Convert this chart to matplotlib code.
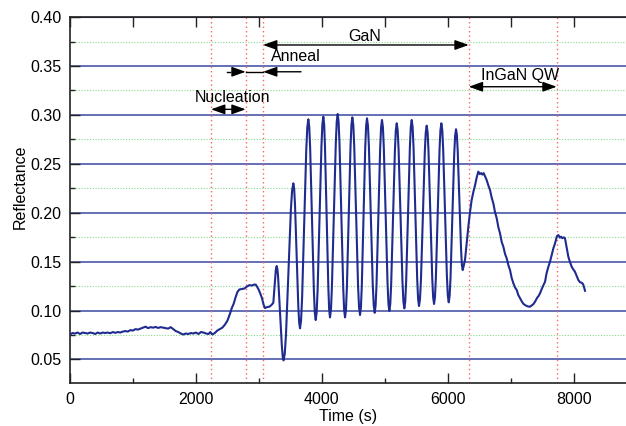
import matplotlib
matplotlib.use("Agg")
import matplotlib.pyplot as plt
from matplotlib.ticker import MultipleLocator

plt.rcParams['font.family'] = ['Liberation Sans', 'DejaVu Sans']

# ---- data ----
time_s = [0, 40, 80, 120, 160, 200, 240, 280, 320, 360, 400, 440, 480, 520, 560, 600, 640, 680, 720, 760,
          800, 840, 880, 920, 960, 1000, 1040, 1080, 1120, 1160, 1200, 1240, 1280, 1320, 1360, 1400, 1440,
          1480, 1520, 1560, 1600, 1640, 1680, 1720, 1760, 1800, 1840, 1880, 1920, 1960, 2000, 2040, 2080,
          2120, 2160, 2200, 2230, 2260, 2300, 2340, 2380, 2420, 2460, 2500, 2540, 2570, 2600, 2630, 2660,
          2690, 2730, 2770, 2810, 2850, 2890, 2920, 2950, 2975, 3000, 3025, 3050, 3075, 3098, 3130, 3170,
          3205, 3230, 3257, 3270, 3283,
          3295, 3305, 3325, 3345, 3365, 3380, 3392,
          3411.5, 3431, 3470, 3509, 3528.5, 3548,
          3561, 3574, 3601, 3627, 3641, 3654,
          3670.5, 3687, 3720, 3753, 3769.5, 3786,
          3800.6, 3815, 3845, 3874, 3888.4, 3903,
          3918.1, 3933, 3964, 3994, 4008.9, 4024,
          4037.3, 4050, 4077, 4104, 4116.8, 4130,
          4145.3, 4160, 4191, 4222, 4236.8, 4252,
          4266.6, 4281, 4311, 4340, 4354.4, 4369,
          4383.5, 4398, 4427, 4456, 4470.5, 4485,
          4500.3, 4515, 4546, 4576, 4591.8, 4607,
          4620.9, 4635, 4663, 4690, 4704.1, 4718,
          4733.3, 4748, 4779, 4809, 4824.8, 4840,
          4854.5, 4869, 4898, 4927, 4941.5, 4956,
          4970.6, 4985, 5015, 5044, 5058.4, 5073,
          5087.6, 5102, 5132, 5161, 5175.4, 5190,
          5205.1, 5220, 5251, 5281, 5295.9, 5311,
          5325.6, 5340, 5370, 5399, 5413.4, 5428,
          5442.5, 5457, 5486, 5515, 5529.5, 5544,
          5559.3, 5575, 5605, 5636, 5650.8, 5666,
          5680.6, 5695, 5725, 5754, 5768.4, 5783,
          5797.5, 5812, 5841, 5870, 5884.5, 5899,
          5913.6, 5928, 5958, 5987, 6001.4, 6016,
          6030.5, 6045, 6074, 6103, 6117.5, 6132,
          6145.3, 6158, 6185, 6212, 6224.8, 6238,
          6255, 6275, 6300, 6328, 6355, 6380, 6410, 6434, 6460, 6486, 6510, 6530, 6550, 6570, 6595,
          6618, 6645, 6672, 6700, 6725, 6750, 6778, 6805, 6831, 6858, 6884, 6910, 6937, 6965, 6990,
          7015, 7043, 7070, 7096, 7120, 7149, 7175, 7200, 7228, 7260, 7290, 7307, 7330, 7360, 7387,
          7420, 7445, 7466, 7500, 7525, 7546, 7570, 7599, 7625, 7652, 7680, 7705, 7735, 7758, 7780,
          7800, 7820, 7845, 7863, 7890, 7916, 7940, 7969, 7995, 8021, 8050, 8075, 8100, 8128, 8150,
          8165, 8181]
reflectance = [0.0755, 0.077, 0.0765, 0.0775, 0.076, 0.0775, 0.077, 0.0765, 0.0775, 0.077, 0.076, 0.0775,
               0.0765, 0.0775, 0.077, 0.0775, 0.0768, 0.078, 0.0772, 0.078, 0.0775, 0.0785, 0.079, 0.0785,
               0.080, 0.0795, 0.081, 0.0805, 0.0815, 0.0825, 0.0835, 0.082, 0.083, 0.0825, 0.0832, 0.0822,
               0.083, 0.0825, 0.082, 0.0815, 0.083, 0.081, 0.079, 0.078, 0.0765, 0.0755, 0.0765, 0.076,
               0.077, 0.0765, 0.0775, 0.076, 0.078, 0.0775, 0.0765, 0.076, 0.078, 0.0755, 0.077, 0.0795,
               0.081, 0.0825, 0.0855, 0.0895, 0.0965, 0.1025, 0.107, 0.1135, 0.119, 0.1215, 0.122, 0.1225,
               0.1245, 0.126, 0.1255, 0.1265, 0.1265, 0.124, 0.121, 0.117, 0.1125, 0.106, 0.1025, 0.1035,
               0.104, 0.106, 0.108, 0.131, 0.142, 0.1455,
               0.142, 0.135, 0.112, 0.087, 0.064, 0.052, 0.049,
               0.0559, 0.0754, 0.1395, 0.2036, 0.2231, 0.230,
               0.2244, 0.2084, 0.1559, 0.1034, 0.0874, 0.0818,
               0.0899, 0.1130, 0.1887, 0.2643, 0.2874, 0.2955,
               0.2877, 0.2655, 0.1929, 0.1203, 0.0981, 0.0903,
               0.0982, 0.1207, 0.1943, 0.2678, 0.2903, 0.2982,
               0.2904, 0.2682, 0.1956, 0.1230, 0.1008, 0.0930,
               0.1009, 0.1234, 0.1970, 0.2705, 0.2930, 0.3009,
               0.2930, 0.2705, 0.1970, 0.1234, 0.1009, 0.0930,
               0.1008, 0.1229, 0.1953, 0.2676, 0.2897, 0.2975,
               0.2898, 0.2680, 0.1965, 0.1249, 0.1031, 0.0954,
               0.1030, 0.1248, 0.1960, 0.2671, 0.2889, 0.2965,
               0.2889, 0.2675, 0.1971, 0.1267, 0.1053, 0.0977,
               0.1052, 0.1265, 0.1963, 0.2660, 0.2873, 0.2948,
               0.2874, 0.2663, 0.1972, 0.1280, 0.1069, 0.0995,
               0.1068, 0.1275, 0.1955, 0.2634, 0.2841, 0.2914,
               0.2842, 0.2638, 0.1968, 0.1298, 0.1094, 0.1022,
               0.1095, 0.1303, 0.1985, 0.2667, 0.2875, 0.2948,
               0.2876, 0.2670, 0.1997, 0.1324, 0.1118, 0.1046,
               0.1116, 0.1315, 0.1968, 0.2621, 0.2820, 0.2890,
               0.2821, 0.2624, 0.1979, 0.1333, 0.1136, 0.1067,
               0.1137, 0.1337, 0.1991, 0.2644, 0.2844, 0.2914,
               0.2844, 0.2647, 0.1999, 0.1351, 0.1154, 0.1084,
               0.1151, 0.1342, 0.1969, 0.2595, 0.2786, 0.2853,
               0.2798, 0.2643, 0.2133, 0.1624, 0.1469, 0.1414,
               0.146, 0.152, 0.168, 0.186, 0.201, 0.213, 0.222, 0.228, 0.236, 0.242, 0.2395, 0.2405, 0.239,
               0.2405, 0.237, 0.2335, 0.228, 0.2232, 0.215, 0.2096, 0.201, 0.1943, 0.185, 0.1789, 0.170,
               0.1652, 0.158, 0.1533, 0.146, 0.1414, 0.1335, 0.1278, 0.1235, 0.121, 0.116, 0.1125, 0.1095,
               0.107, 0.1056, 0.1045, 0.104, 0.1039, 0.105, 0.1065, 0.109, 0.113, 0.115, 0.1176, 0.123,
               0.1265, 0.1295, 0.138, 0.1448, 0.150, 0.1567, 0.164, 0.1687, 0.176, 0.1772, 0.1745, 0.1755,
               0.174, 0.1748, 0.1738, 0.164, 0.155, 0.150, 0.1448, 0.142, 0.1397, 0.135, 0.1312, 0.129,
               0.1284, 0.127, 0.124, 0.1202]

phase_bounds = [2240, 2791, 3066, 6334, 7731]
x_ticks = [0, 2000, 4000, 6000, 8000]
y_ticks = [0.05, 0.10, 0.15, 0.20, 0.25, 0.30, 0.35, 0.40]

# ---- figure ----
fig = plt.figure(figsize=(6.26, 4.26), dpi=100)
ax = fig.add_axes([70/626, 42.7/426, 556/626, 366.2/426])

ax.set_xlim(0, 8832)
ax.set_ylim(0.0256, 0.40)

ax.xaxis.set_major_locator(MultipleLocator(2000))
ax.xaxis.set_minor_locator(MultipleLocator(1000))
ax.yaxis.set_major_locator(MultipleLocator(0.05))
ax.yaxis.set_minor_locator(MultipleLocator(0.025))
ax.set_xticks(x_ticks)
ax.set_yticks(y_ticks)
ax.set_yticklabels([f"{v:.2f}" for v in y_ticks])

ax.grid(which='major', axis='y', color='#3a48a0', lw=1.1, ls='-', zorder=1)
ax.grid(which='minor', axis='y', color='#88d888', lw=0.8, ls=(0, (1, 1.5)), zorder=1)
ax.grid(which='major', axis='x', visible=False)

ax.tick_params(which='major', direction='in', length=7, width=1, labelsize=11.5, pad=6,
               top=False, right=False, colors='#222222', labelcolor='black')
ax.tick_params(which='minor', direction='in', length=3.5, width=1, top=False, right=False, colors='#222222')
ax.tick_params(axis='x', which='major', pad=6)

secx = ax.secondary_xaxis('top')
secx.set_xticks(list(range(0, 9000, 1000)))
secx.tick_params(direction='in', length=7, width=1, labeltop=False, colors='#222222')
secx.spines['top'].set_color('#222222')

for s in ['left', 'bottom', 'top']:
    ax.spines[s].set_color('#222222')
    ax.spines[s].set_linewidth(1.2)
ax.spines['right'].set_visible(False)

for xb in phase_bounds:
    ax.axvline(xb, color='#ff6060', lw=1.0, ls=(0, (1, 2.2)), zorder=2)

ax.plot(time_s, reflectance, color='#1f2b8e', lw=1.5, zorder=3)

ax.set_xlabel('Time (s)', fontsize=11.5, labelpad=2)
ax.set_ylabel('Reflectance', fontsize=11.5)
ax.yaxis.set_label_coords(-0.076, 0.537)

# ---- annotations ----
head = dict(color='black', lw=1.0, shrinkA=0, shrinkB=0, mutation_scale=12)
ap2 = dict(arrowstyle='<|-|>,head_length=0.7,head_width=0.25', **head)
ap1 = dict(arrowstyle='-|>,head_length=0.7,head_width=0.25', **head)

ax.annotate('', xy=(6334, 0.3715), xytext=(3066, 0.3715), arrowprops=ap2, zorder=5)
ax.text(4686, 0.3797, 'GaN', ha='center', va='center', fontsize=11.5)

ax.text(3580, 0.3595, 'Anneal', ha='center', va='center', fontsize=11.5)
ax.plot([2490, 2545], [0.3441, 0.3441], color='black', lw=1.0, zorder=5)
ax.annotate('', xy=(2791, 0.3441), xytext=(2615, 0.3441), arrowprops=ap1, zorder=5)
ax.plot([2791, 3066], [0.3441, 0.3441], color='black', lw=1.0, zorder=5)
ax.annotate('', xy=(3066, 0.3441), xytext=(3670, 0.3441), arrowprops=ap1, zorder=5)

ax.annotate('', xy=(2791, 0.3057), xytext=(2240, 0.3057), arrowprops=ap2, zorder=5)
ax.text(2575, 0.3176, 'Nucleation', ha='center', va='center', fontsize=11.5)

ax.annotate('', xy=(7731, 0.3288), xytext=(6334, 0.3288), arrowprops=ap2, zorder=5)
ax.text(7149, 0.3408, 'InGaN QW', ha='center', va='center', fontsize=11.5)

fig.savefig('out.png', dpi=100)
